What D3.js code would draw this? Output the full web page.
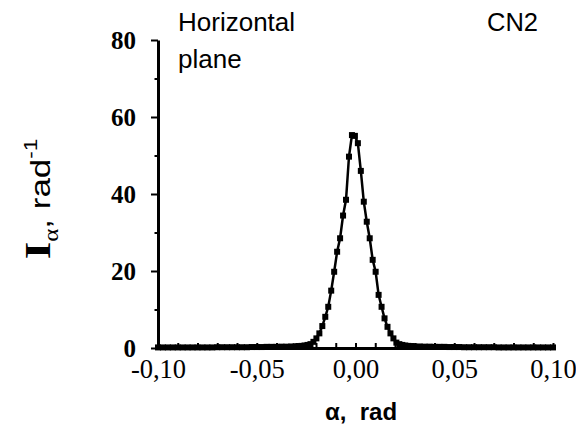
<!DOCTYPE html>
<html>
<head>
<meta charset="utf-8">
<script src="https://cdn.jsdelivr.net/npm/d3@7"></script>
<style>
  html, body { margin: 0; padding: 0; background: #fff; }
  svg { display: block; }
</style>
</head>
<body>
<svg id="chart" width="576" height="426"></svg>
<script>
// angle (rad) and intensity (rad^-1)
const alpha = [
  -0.100, -0.0975, -0.095, -0.0925, -0.090, -0.0875, -0.085, -0.0825, -0.080, -0.0775,
  -0.075, -0.0725, -0.070, -0.0675, -0.065, -0.0625, -0.060, -0.0575, -0.055, -0.0525,
  -0.050, -0.0475, -0.045, -0.0425, -0.040, -0.0375, -0.035, -0.0325,
  -0.0303, -0.0288, -0.0273, -0.0258, -0.0243, -0.0228, -0.0213, -0.0198, -0.0183, -0.0168,
  -0.0153, -0.0138, -0.0123, -0.0108, -0.0093, -0.0078, -0.0063, -0.0048, -0.0033, -0.0018,
  -0.0003, 0.0012, 0.0027, 0.0042, 0.0057, 0.0072, 0.0087, 0.0102, 0.0117, 0.0132,
  0.0147, 0.0162, 0.0177, 0.0192, 0.0207, 0.0222, 0.0237, 0.0252, 0.0267, 0.0282, 0.0297,
  0.0325, 0.035, 0.0375, 0.040, 0.0425, 0.045, 0.0475, 0.050, 0.0525, 0.055,
  0.0575, 0.060, 0.0625, 0.065, 0.0675, 0.070, 0.0725, 0.075, 0.0775, 0.080,
  0.0825, 0.085, 0.0875, 0.090, 0.0925, 0.095, 0.0975, 0.100
];
const intensity = [
  0.15, 0.15, 0.15, 0.15, 0.15, 0.15, 0.15, 0.15, 0.15, 0.15,
  0.15, 0.15, 0.2, 0.2, 0.2, 0.2, 0.2, 0.2, 0.2, 0.25,
  0.25, 0.25, 0.3, 0.3, 0.3, 0.35, 0.35, 0.4,
  0.45, 0.5, 0.55, 0.65, 0.8, 1.0, 1.6, 2.5, 3.8, 5.7,
  8.1, 10.7, 14.9, 19.8, 25.0, 28.5, 34.4, 38.5, 49.7, 55.3,
  55.1, 53.2, 46.0, 38.0, 32.8, 28.5, 22.9, 19.8, 13.8, 10.7,
  7.7, 5.5, 3.8, 2.5, 1.4, 1.0, 0.8, 0.65, 0.55, 0.5, 0.45,
  0.4, 0.35, 0.35, 0.3, 0.3, 0.3, 0.25, 0.25, 0.25, 0.2,
  0.2, 0.2, 0.2, 0.2, 0.2, 0.2, 0.15, 0.15, 0.15, 0.15,
  0.15, 0.15, 0.15, 0.15, 0.15, 0.15, 0.15, 0.15
];
const xLabelTicks = [-0.10, -0.05, 0.00, 0.05, 0.10];
const xMinorTicks = [-0.10, -0.09, -0.08, -0.07, -0.06, -0.05, -0.04, -0.03, -0.02, -0.01,
  0.00, 0.01, 0.02, 0.03, 0.04, 0.05, 0.06, 0.07, 0.08, 0.09, 0.10];
const yLabelTicks = [0, 20, 40, 60, 80];
const yMinorTicks = [10, 30, 50, 70];

const svg = d3.select('#chart');
const margin = {top: 40, left: 158, right: 23, bottom: 78};
const W = 576, H = 426;

const x = d3.scaleLinear().domain([-0.10, 0.10]).range([margin.left, W - margin.right]);
const y = d3.scaleLinear().domain([0, 80]).range([H - margin.bottom, margin.top]);

const serif = '"Liberation Serif", "Times New Roman", serif';
const sans = '"Liberation Sans", Arial, sans-serif';
const fmt = d => (Math.abs(d) < 1e-9 ? 0 : d).toFixed(2).replace('.', ',');

// x axis: small ticks inside every 0.01, labels every 0.05
const gx = svg.append('g').attr('transform', `translate(0,${y(0)})`);
gx.call(d3.axisBottom(x).tickValues(xMinorTicks).tickSize(-5).tickSizeOuter(0).tickFormat(''));
const gxl = svg.append('g').attr('transform', `translate(0,${y(0)})`);
gxl.call(d3.axisBottom(x).tickValues(xLabelTicks).tickSize(0).tickPadding(11).tickFormat(fmt));
gxl.select('.domain').remove();
gxl.selectAll('text').attr('font-family', serif).attr('font-size', 26.5).attr('fill', '#000');

// y axis
const gy = svg.append('g').attr('transform', `translate(${x(-0.10)},0)`);
gy.call(d3.axisLeft(y).tickValues(yLabelTicks).tickSize(7).tickSizeOuter(0).tickPadding(15).tickFormat(d3.format('d')));
gy.selectAll('text').attr('font-family', serif).attr('font-weight', 'bold').attr('font-size', 25).attr('fill', '#000');
const gym = svg.append('g').attr('transform', `translate(${x(-0.10)},0)`);
gym.call(d3.axisLeft(y).tickValues(yMinorTicks).tickSize(3.5).tickFormat(''));
gym.select('.domain').remove();

svg.selectAll('.domain').attr('stroke', '#000').attr('stroke-width', 3);
svg.selectAll('.tick line').attr('stroke', '#000').attr('stroke-width', 2);

// curve and markers
const pts = alpha.map((a, i) => [a, intensity[i]]);
svg.append('path')
  .datum(pts)
  .attr('fill', 'none')
  .attr('stroke', '#000')
  .attr('stroke-width', 2.5)
  .attr('d', d3.line().x(d => x(d[0])).y(d => y(d[1])));

const ms = 6;
svg.append('g').selectAll('rect')
  .data(pts)
  .join('rect')
  .attr('x', d => x(d[0]) - ms / 2)
  .attr('y', d => y(d[1]) - ms / 2)
  .attr('width', ms)
  .attr('height', ms)
  .attr('fill', '#000');

// annotations
svg.append('text').attr('x', 178).attr('y', 31).attr('font-family', sans).attr('font-size', 26).text('Horizontal');
svg.append('text').attr('x', 178).attr('y', 68).attr('font-family', sans).attr('font-size', 26).text('plane');
svg.append('text').attr('x', 487).attr('y', 31).attr('font-family', sans).attr('font-size', 25.5).text('CN2');

// x title
svg.append('text')
  .attr('x', 361).attr('y', 420)
  .attr('text-anchor', 'middle')
  .attr('font-family', sans).attr('font-weight', 'bold').attr('font-size', 24)
  .style('white-space', 'pre')
  .text('α,  rad');

// y title
const yt = svg.append('text')
  .attr('transform', 'translate(50,199) rotate(-90) scale(1.25,1)')
  .attr('text-anchor', 'middle')
  .attr('fill', '#000');
yt.append('tspan').attr('font-family', serif).attr('font-weight', 'bold').attr('font-size', 36).text('I');
yt.append('tspan').attr('font-family', serif).attr('font-size', 20).attr('dy', 8).text('α');
yt.append('tspan').attr('font-family', sans).attr('font-size', 28).attr('dy', -8).text(', rad');
yt.append('tspan').attr('font-family', sans).attr('font-size', 18).attr('dy', -13).text('-1');
</script>
</body>
</html>
